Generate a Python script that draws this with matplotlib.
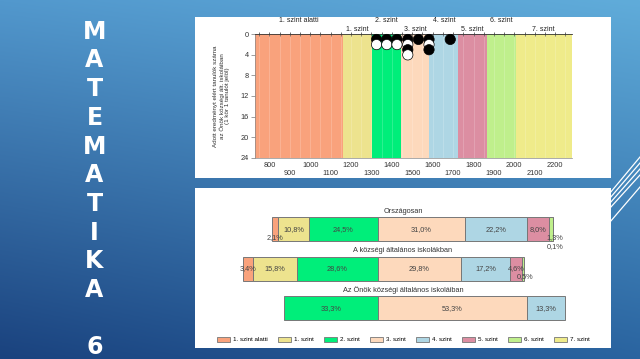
import matplotlib
matplotlib.use('Agg')
import matplotlib.pyplot as plt
import matplotlib.transforms as mtransforms
from matplotlib.patches import Patch
from matplotlib.ticker import MultipleLocator
import numpy as np

W, H = 640, 359

# --- data ---
level_names = ['1. szint alatti', '1. szint', '2. szint', '3. szint',
               '4. szint', '5. szint', '6. szint', '7. szint']
level_colors = ['#F9A27C', '#EDE38E', '#00EE7A', '#FDD9BC',
                '#AED6E4', '#DC8EA2', '#BFEF8C', '#EFEB8A']
level_edges = [1161, 1302, 1443, 1584, 1725, 1866, 2007]
score_min, score_max = 731, 2281

dot_scores = [1325, 1375, 1425, 1478, 1530, 1582, 1686]
dot_counts = [2, 2, 2, 4, 1, 3, 1]

groups = ['Országosan', 'A községi általános iskolákban',
          'Az Önök községi általános iskoláiban']
shares = [
    [2.1, 10.8, 24.5, 31.0, 22.2, 8.0, 1.3, 0.1],
    [3.4, 15.8, 28.6, 29.8, 17.2, 4.6, 0.5, 0.0],
    [0.0, 0.0, 33.3, 53.3, 13.3, 0.0, 0.0, 0.0],
]
side_title = ['M', 'A', 'T', 'E', 'M', 'A', 'T', 'I', 'K', 'A', '', '6']

plt.rcParams['font.family'] = ['Liberation Sans', 'DejaVu Sans']


def box(x0, y0, x1, y1):
    # pixel box -> figure fraction rect
    return [x0 / W, 1 - y1 / H, (x1 - x0) / W, (y1 - y0) / H]


fig = plt.figure(figsize=(6.4, 3.59), dpi=100)

# background gradient
bg = fig.add_axes([0, 0, 1, 1])
yy, xx = np.mgrid[0:1:200j, 0:1:300j]
c_tl = np.array([82, 152, 205]) / 255
c_tr = np.array([96, 172, 218]) / 255
c_bl = np.array([26, 66, 126]) / 255
c_br = np.array([42, 100, 160]) / 255
img = (c_tl * ((1 - xx) * (1 - yy))[..., None] + c_tr * (xx * (1 - yy))[..., None]
       + c_bl * ((1 - xx) * yy)[..., None] + c_br * (xx * yy)[..., None])
bg.imshow(img, extent=[0, 1, 0, 1], aspect='auto', origin='upper')
for y0, y1 in [(193, 157), (198, 163), (203, 169), (208, 175), (222, 187)]:
    bg.plot([610 / W, 640 / W], [1 - y0 / H, 1 - y1 / H], color='white', lw=0.9)
bg.set_xlim(0, 1)
bg.set_ylim(0, 1)
bg.axis('off')

for i, ch in enumerate(side_title):
    fig.text(94.5 / W, 1 - (31.7 + i * 28.7) / H, ch, color='white', fontsize=17,
             fontweight='bold', family='DejaVu Sans', ha='center', va='center')

# white panels
for rect in [box(195, 16.7, 611, 177.7), box(195, 187.7, 611, 347.7)]:
    p = fig.add_axes(rect)
    p.set_xticks([])
    p.set_yticks([])
    for s in p.spines.values():
        s.set_visible(False)

# --- top chart ---
ax = fig.add_axes(box(255.3, 34.3, 571.7, 157.7))
bounds = [score_min] + level_edges + [score_max]
for i, name in enumerate(level_names):
    ax.axvspan(bounds[i], bounds[i + 1], color=level_colors[i], lw=0)
    cx = (bounds[i] + bounds[i + 1]) / 2
    ax.text(cx, -2.65 if i % 2 == 0 else -1.03, name, ha='center', va='center',
            fontsize=5, color='#222', clip_on=False)
for v in range(750, 2300, 50):
    ax.axvline(v, color='white', alpha=0.25, lw=0.5)

xs, ys, fc = [], [], []
for k in range(max(dot_counts)):
    for sc, n in zip(dot_scores, dot_counts):
        if k < n:
            xs.append(sc)
            ys.append(k + 1)
            fc.append('black' if k % 2 == 0 else 'white')
ax.scatter(xs, ys, s=55, c=fc, edgecolors='black', linewidths=0.5, zorder=3, clip_on=False)

ax.set_xlim(score_min, score_max)
ax.set_ylim(24, 0)
ax.set_yticks(range(0, 25, 4))
ticks = list(range(800, 2201, 100))
ax.set_xticks(ticks)
ax.set_xticklabels([str(t) if (t // 100) % 2 == 0 else '\n' + str(t) for t in ticks])
ax.xaxis.set_minor_locator(MultipleLocator(50))
ax.tick_params(axis='x', which='both', top=True, bottom=False, labeltop=False,
               direction='inout', length=2.5, width=0.5, color='#333',
               labelsize=5.3, labelcolor='#333', pad=2)
ax.tick_params(axis='y', length=3, width=0.5, color='#777', labelsize=5.3,
               labelcolor='#333', pad=1.5)
ax.spines['right'].set_visible(False)
ax.spines['top'].set_color('#333')
ax.spines['top'].set_linewidth(0.6)
ax.spines['left'].set_color('#888')
ax.spines['left'].set_linewidth(0.5)
ax.spines['bottom'].set_color('#888')
ax.spines['bottom'].set_linewidth(0.5)
ax.text(-0.106, 0.5, 'Adott eredményt elért tanulók száma\naz Önök községi ált. iskoláiban\n(1 kör 1 tanulót jelöl)',
        transform=ax.transAxes, rotation=90, ha='center', va='center',
        multialignment='center', fontsize=4.5, color='#333', linespacing=1.1)

# --- bottom chart ---
bx = fig.add_axes(box(195, 187.7, 611, 347.7))
bx.set_xlim(-64.95, 83.1)
bx.set_ylim(3.0, -1.056)
bx.axis('off')
nudge = {(0, 0): (0, 8), (0, 6): (4, 8), (0, 7): (1.5, 16.7), (1, 6): (2, 8)}
for gi, vals in enumerate(shares):
    left = -sum(vals[:3])
    for li, v in enumerate(vals):
        if v > 0:
            bx.barh(gi, v, left=left, height=0.61, color=level_colors[li],
                    edgecolor='#777', linewidth=0.7)
            dx, dy = nudge.get((gi, li), (0, 0))
            bx.annotate(f'{v:.1f}%'.replace('.', ','), (left + v / 2, gi),
                        xytext=(dx * 0.72, -dy * 0.72), textcoords='offset points',
                        ha='center', va='center', fontsize=5.3, color='#444')
        left += v
trans = mtransforms.blended_transform_factory(bx.transAxes, bx.transData)
for gi, name in enumerate(groups):
    bx.text(0.5, gi - 0.455, name, transform=trans, ha='center', va='center',
            fontsize=5.3, color='#333')

handles = [Patch(facecolor=c, edgecolor='#777', linewidth=0.6, label=n)
           for c, n in zip(level_colors, level_names)]
bx.legend(handles=handles, ncol=8, loc='center', bbox_to_anchor=(0.5, 0.05),
          frameon=False, fontsize=4.5, handlelength=2.1, handleheight=0.8,
          columnspacing=1.6, handletextpad=0.5, borderaxespad=0)

fig.savefig('out.png', dpi=100)
